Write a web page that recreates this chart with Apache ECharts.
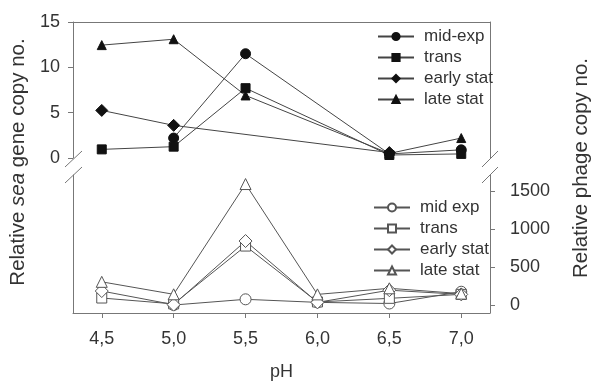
<!DOCTYPE html>
<html>
<head>
<meta charset="utf-8">
<script src="https://cdn.jsdelivr.net/npm/echarts@6/dist/echarts.min.js"></script>
<style>
  html, body { margin: 0; padding: 0; background: #fff; }
  #main { width: 594px; height: 383px; }
</style>
</head>
<body>
<div id="main"></div>
<script>
var ph = [4.5, 5.0, 5.5, 6.0, 6.5, 7.0];

// sea gene copy no. (upper panel)
var midExp = [null, 2.2, 11.5, null, 0.45, 0.9];
var trans = [0.95, 1.25, 7.7, null, 0.33, 0.45];
var earlyStat = [5.25, 3.6, null, null, 0.6, null];
var lateStat = [12.45, 13.1, 6.9, null, 0.5, 2.2];

// phage copy no. (lower panel)
var midExpPhage = [null, 0, 75, 35, 20, 175];
var transPhage = [92, 15, 776, 40, 88, 140];
var earlyStatPhage = [184, 5, 842, 35, 195, 140];
var lateStatPhage = [305, 141, 1592, 140, 220, 150];

var bottomTicks = [0, 500, 1000, 1500];

function pairs(vals) {
  return ph.map(function (x, i) { return [x, vals[i]]; });
}

var font = 'Liberation Sans, Arial, sans-serif';
var axisColor = '#777';

function filled(name, symbol, size, vals) {
  return {
    name: name, type: 'line', xAxisIndex: 0, yAxisIndex: 0,
    data: pairs(vals), connectNulls: true,
    symbol: symbol, symbolSize: size,
    lineStyle: { color: '#444', width: 1 },
    itemStyle: { color: '#111', borderColor: '#111', borderWidth: 1 },
    emphasis: { disabled: true }
  };
}

function open(name, symbol, size, vals) {
  return {
    name: name, type: 'line', xAxisIndex: 1, yAxisIndex: 3,
    data: pairs(vals), connectNulls: true,
    symbol: symbol, symbolSize: size, showAllSymbol: true,
    lineStyle: { color: '#555', width: 1 },
    itemStyle: { color: '#fff', borderColor: '#555', borderWidth: 1 },
    emphasis: { disabled: true }
  };
}

var legendText = { fontSize: 17, color: '#333', lineHeight: 16, padding: [0, 0, 0, 5] };

var myChart = echarts.init(document.getElementById('main'));
var option = {
  animation: false,
  textStyle: { fontFamily: font },
  grid: [
    { left: 73, right: 104, top: 22, height: 136 },
    { left: 73, right: 104, top: 175, height: 138 }
  ],
  legend: [
    {
      orient: 'vertical', left: 377, top: 28, itemGap: 4, padding: 0,
      itemWidth: 36, itemHeight: 9,
      data: ['mid-exp', 'trans', 'early stat', 'late stat'],
      textStyle: legendText
    },
    {
      orient: 'vertical', left: 373, top: 199, itemGap: 4, padding: 0,
      itemWidth: 36, itemHeight: 10,
      data: ['mid exp', 'trans ', 'early stat ', 'late stat '],
      textStyle: legendText
    }
  ],
  xAxis: [
    {
      gridIndex: 0, type: 'value', position: 'top', min: 4.3, max: 7.2,
      axisLine: { show: true, onZero: false, lineStyle: { color: axisColor } },
      axisTick: { show: false }, axisLabel: { show: false }, splitLine: { show: false }
    },
    {
      gridIndex: 1, type: 'value', position: 'bottom', min: 4.3, max: 7.2,
      name: 'pH', nameLocation: 'middle', nameGap: 50,
      nameTextStyle: { fontSize: 18, color: '#333' },
      axisLine: { show: true, onZero: false, lineStyle: { color: axisColor } },
      axisTick: { show: true, length: 5, customValues: ph, lineStyle: { color: axisColor } },
      axisLabel: {
        customValues: ph, fontSize: 18, color: '#333', margin: 17,
        formatter: function (v) { return v.toFixed(1).replace('.', ','); }
      },
      splitLine: { show: false }
    }
  ],
  yAxis: [
    {
      gridIndex: 0, type: 'value', position: 'left', min: 0, max: 15, interval: 5,
      axisLine: { show: true, onZero: false, lineStyle: { color: axisColor } },
      axisTick: { show: true, length: 5, lineStyle: { color: axisColor } },
      axisLabel: { fontSize: 18, color: '#333', margin: 13 },
      splitLine: { show: false }
    },
    {
      gridIndex: 0, type: 'value', position: 'right', min: 0, max: 15,
      axisLine: { show: true, onZero: false, lineStyle: { color: axisColor } },
      axisTick: { show: false }, axisLabel: { show: false }, splitLine: { show: false }
    },
    {
      gridIndex: 1, type: 'value', position: 'left', min: -105, max: 1711,
      axisLine: { show: true, onZero: false, lineStyle: { color: axisColor } },
      axisTick: { show: false }, axisLabel: { show: false }, splitLine: { show: false }
    },
    {
      gridIndex: 1, type: 'value', position: 'right', min: -105, max: 1711,
      axisLine: { show: true, onZero: false, lineStyle: { color: axisColor } },
      axisTick: { show: true, length: 5, customValues: bottomTicks, lineStyle: { color: axisColor } },
      axisLabel: {
        customValues: bottomTicks, fontSize: 18, color: '#333', margin: 20,
        formatter: function (v) { return String(v); }
      },
      splitLine: { show: false }
    }
  ],
  graphic: [
    // axis break marks
    { type: 'line', shape: { x1: 65, y1: 167, x2: 82, y2: 151 }, style: { stroke: axisColor, lineWidth: 1 } },
    { type: 'line', shape: { x1: 65, y1: 183, x2: 82, y2: 167 }, style: { stroke: axisColor, lineWidth: 1 } },
    { type: 'line', shape: { x1: 482, y1: 167, x2: 498, y2: 151 }, style: { stroke: axisColor, lineWidth: 1 } },
    { type: 'line', shape: { x1: 482, y1: 183, x2: 498, y2: 167 }, style: { stroke: axisColor, lineWidth: 1 } },
    {
      type: 'text', x: 18, y: 162, rotation: Math.PI / 2,
      style: {
        text: '{a|Relative }{b|sea}{a| gene copy no.}',
        align: 'center', verticalAlign: 'middle',
        rich: {
          a: { fontSize: 20.5, fill: '#333', fontFamily: font },
          b: { fontSize: 20.5, fill: '#333', fontFamily: font, fontStyle: 'italic' }
        }
      }
    },
    {
      type: 'text', x: 581, y: 168, rotation: Math.PI / 2,
      style: {
        text: 'Relative phage copy no.', align: 'center', verticalAlign: 'middle',
        fontSize: 20.5, fill: '#333', fontFamily: font
      }
    }
  ],
  series: [
    filled('mid-exp', 'circle', 10, midExp),
    filled('trans', 'rect', 9, trans),
    filled('early stat', 'diamond', 12, earlyStat),
    filled('late stat', 'triangle', 9, lateStat),
    open('mid exp', 'circle', 11, midExpPhage),
    open('trans ', 'rect', 10, transPhage),
    open('early stat ', 'diamond', 13, earlyStatPhage),
    open('late stat ', 'triangle', 11, lateStatPhage)
  ]
};

myChart.setOption(option);
</script>
</body>
</html>
